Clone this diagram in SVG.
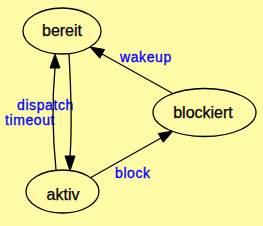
<svg xmlns="http://www.w3.org/2000/svg" width="263" height="226" viewBox="0 0 263 226">
<style>
.node ellipse{fill:#fffaa5;stroke:#000;stroke-width:1.3}
.node text{font-family:"Liberation Sans",Arial,sans-serif;font-size:16px;fill:#000;text-anchor:middle;stroke:#000;stroke-width:0.25}
.edge path{fill:none;stroke:#000;stroke-width:1.3}
.edge polygon{fill:#000;stroke:#000;stroke-width:1}
.lbl{font-family:"Liberation Sans",Arial,sans-serif;font-size:14px;letter-spacing:0.6px;fill:#0000ff;stroke:#0000ff;stroke-width:0.3}
</style>
<rect width="263" height="226" fill="#fffaa5"/>
<g id="edges">
<g class="edge" id="e_aktiv_bereit">
<path d="M56,170 C53,140 52,100 55,68"/>
<polygon points="55,54 50,68 60,68"/>
<text class="lbl" x="17" y="109.5">dispatch</text>
</g>
<g class="edge" id="e_bereit_aktiv">
<path d="M69,54 C71,90 72,130 70,157"/>
<polygon points="70,171 65,156 75,156"/>
<text class="lbl" x="5" y="124.5">timeout</text>
</g>
<g class="edge" id="e_blockiert_bereit">
<path d="M172,93 L102,54"/>
<polygon points="90,47 99.8,58.2 104.6,49.5"/>
<text class="lbl" x="120" y="62">wakeup</text>
</g>
<g class="edge" id="e_aktiv_blockiert">
<path d="M90,178 L161,138"/>
<polygon points="173,131 163.3,142.3 158.3,133.5"/>
<text class="lbl" x="115" y="178">block</text>
</g>
</g>
<g class="node" id="bereit">
<ellipse cx="62" cy="31" rx="39" ry="23"/>
<text x="62" y="36">bereit</text>
</g>
<g class="node" id="blockiert">
<ellipse cx="204.5" cy="112.5" rx="51.5" ry="24"/>
<text x="203" y="118">blockiert</text>
</g>
<g class="node" id="aktiv">
<ellipse cx="62.5" cy="191.5" rx="36.5" ry="21.5"/>
<text x="63" y="200">aktiv</text>
</g>
</svg>
